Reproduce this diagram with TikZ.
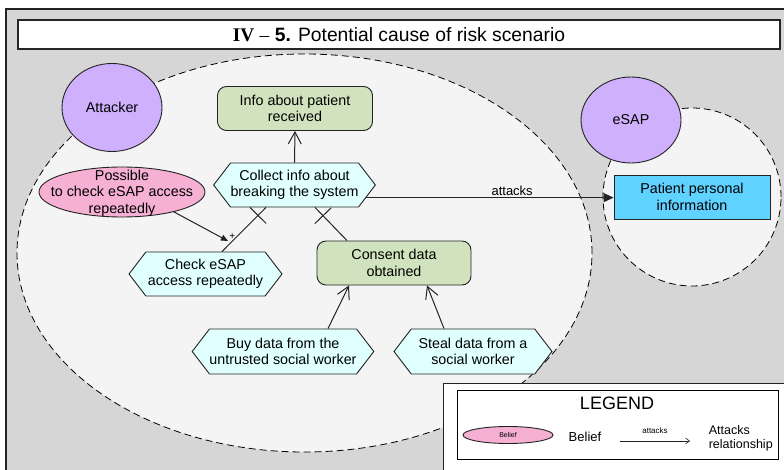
\documentclass[tikz,border=0pt]{standalone}
\usepackage{fontspec}
\setmainfont{Liberation Sans}
\newfontfamily\serifface[Ligatures=TeX]{Liberation Serif}
\usetikzlibrary{shapes.geometric,shapes.symbols,arrows.meta}
\definecolor{bggray}{RGB}{214,214,214}
\definecolor{zonefill}{RGB}{244,244,244}
\definecolor{actorfill}{RGB}{207,176,252}
\definecolor{goalfill}{RGB}{209,227,190}
\definecolor{planfill}{RGB}{224,255,255}
\definecolor{belieffill}{RGB}{245,176,212}
\definecolor{assetfill}{RGB}{96,210,255}
\definecolor{edgecol}{RGB}{35,35,35}
\begin{document}
\begin{tikzpicture}[
        x=1pt, y=-1pt,
        every node/.style={font=\fontsize{14.3}{16.5}\selectfont, align=center, line width=0.9pt},
        zone/.style={draw=black, fill=zonefill, line width=0.8pt, dash pattern=on 7pt off 4pt, inner sep=0pt},
        actor/.style={ellipse, draw=edgecol, fill=actorfill, minimum width=100pt, minimum height=88pt, inner sep=0pt},
        goal/.style={rectangle, rounded corners=9pt, draw=edgecol, fill=goalfill, minimum width=155pt, minimum height=44pt, inner sep=0pt},
        plan/.style={signal, signal to=west and east, signal pointer angle=105, draw=edgecol, fill=planfill, minimum width=153pt, minimum height=44pt, inner sep=0pt},
        belief/.style={ellipse, draw=edgecol, fill=belieffill, inner sep=0pt},
        asset/.style={rectangle, draw=edgecol, fill=assetfill, minimum width=156pt, minimum height=44pt, inner sep=0pt},
        link/.style={draw=edgecol, line width=1pt},
        cut/.style={sloped, draw=none, inner sep=0pt, minimum width=0pt, minimum height=22pt},
        attack/.style={link, -{Triangle[length=10pt,width=9pt]}},
        contrib/.style={link, -{Triangle[length=7pt,width=6pt]}},
        open/.style={link, -{Straight Barb[length=12pt,width=13pt]}},
    ]
    \clip[use as bounding box] (0,0) rectangle (784,470);
    \draw[draw=edgecol, fill=bggray, line width=1.2pt] (6,9) rectangle (800,480);
    \node[draw=black!85, fill=white, line width=1.2pt, minimum width=762pt, minimum height=29pt, inner sep=0pt,
        font=\fontsize{19.3}{19.3}\selectfont] (title) at (399,34.5)
        {{\serifface\bfseries IV} {\serifface –} \textbf{5.} Potential cause of risk scenario};

    \node[zone, ellipse, minimum width=575pt, minimum height=398pt] (attackerzone) at (304.5,253) {};
    \node[zone, circle, minimum size=178pt] (esapzone) at (692,197) {};

    \node[actor] (attacker) at (112,107.5) {Attacker};
    \node[actor, minimum height=86pt] (esap) at (631,120) {eSAP};

    \node[goal] (info) at (295,108.5) {Info about patient\\received};
    \node[plan] (collect) at (294.5,185) {Collect info about\\breaking the system};
    \node[belief, minimum width=166pt, minimum height=50pt] (possible) at (122,192)
        {\makebox[0pt]{\raisebox{-5pt}[0pt][0pt]{\begin{tabular}{@{}c@{}}Possible\\to check eSAP access\\repeatedly\end{tabular}}}};
    \node[plan] (check) at (205.5,274) {Check eSAP\\access repeatedly};
    \node[goal, minimum width=154pt] (consent) at (394,263) {Consent data\\obtained};
    \node[plan, minimum width=174pt, minimum height=45pt] (buy) at (283,351.5) {Buy data from the\\untrusted social worker};
    \node[plan, minimum width=158pt, minimum height=45pt] (steal) at (473,351.5) {Steal data from a\\social worker};
    \node[asset] (patient) at (692,197) {Patient personal\\information};

    \draw[open] (collect.north) -- (info.south);
    \draw[open] ([xshift=45pt]buy.north) -- ([xshift=-45pt]consent.south);
    \draw[open] ([xshift=-29pt]steal.north) -- ([xshift=33pt]consent.south);
    \draw[link] ([xshift=16.5pt]check.north) -- node[cut, pos=.82] (cut1) {} ([xshift=-28.5pt]collect.south);
    \draw[link] (cut1.north) -- (cut1.south);
    \draw[link] ([xshift=-47pt]consent.north) -- node[cut, pos=.75] (cut2) {} ([xshift=20.5pt]collect.south);
    \draw[link] (cut2.north) -- (cut2.south);
    \coordinate (plus) at (228,241);
    \draw[contrib] (possible.-21) -- (plus) node[anchor=south west, inner sep=1pt, font=\fontsize{10}{10}\selectfont] {+};
    \draw[attack] (collect.-10) -- node[above, pos=.59, inner sep=2pt, font=\fontsize{13}{13}\selectfont] {attacks} (collect.-10 -| patient.west);

    \node[draw=edgecol, fill=white, line width=0.9pt, minimum width=360pt, minimum height=100pt, anchor=north west] (legendframe) at (443,383) {};
    \node[draw=black, line width=0.9pt, minimum width=321pt, minimum height=69pt, inner sep=0pt, anchor=north west] (legend) at (457,390) {};
    \node[font=\fontsize{18}{18}\selectfont] (legendtitle) at (617,403) {LEGEND};
    \node[belief, minimum width=90pt, minimum height=17pt, font=\fontsize{7}{7}\selectfont] (beliefkey) at (508,435) {Belief};
    \node[font=\fontsize{13}{13}\selectfont] (beliefname) at (585,437) {Belief};
    \coordinate (keystart) at (620,441);
    \coordinate (keyend) at (690,441);
    \draw[link, line width=0.6pt, -{Straight Barb[length=4pt,width=6pt]}] (keystart) -- node[above=7pt, inner sep=0pt, font=\fontsize{8}{8}\selectfont] {attacks} (keyend);
    \node[anchor=west, align=left, font=\fontsize{12.5}{14}\selectfont] (attackname) at (705,438) {Attacks\\relationship};
\end{tikzpicture}
\end{document}
